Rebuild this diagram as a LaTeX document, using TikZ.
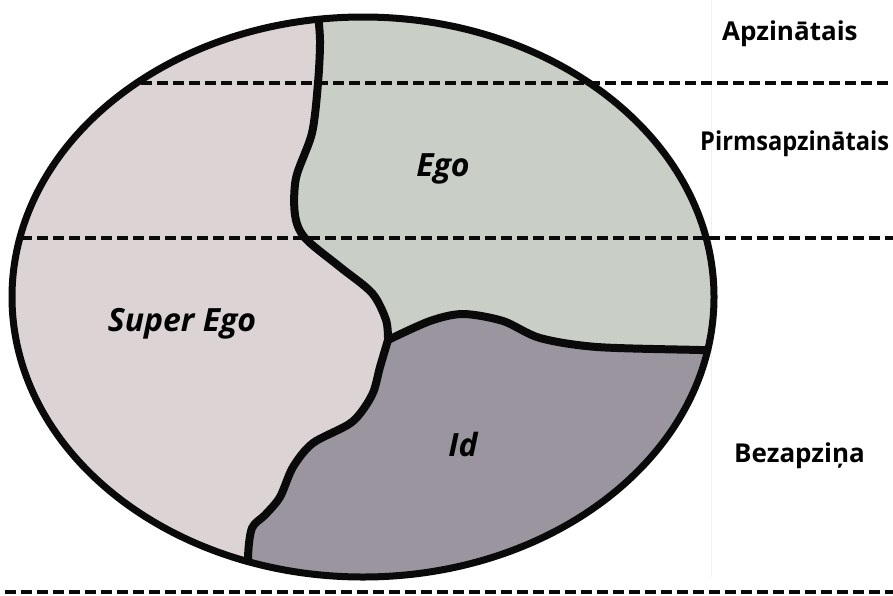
\documentclass[tikz,border=0pt]{standalone}
\usepackage{fontspec}
\setmainfont{Open Sans}
\usetikzlibrary{positioning}
\definecolor{superegofill}{HTML}{DCD3D4}
\definecolor{egofill}{HTML}{C9CFC6}
\definecolor{idfill}{HTML}{9A959F}
\definecolor{inkblack}{HTML}{0A0A0A}
\definecolor{faintgrey}{HTML}{F1F1F1}

\tikzset{
  zona/.style={font=\fontsize{32}{32}\selectfont\bfseries\itshape, inner sep=0pt},
  limenis/.style={font=\fontsize{26}{26}\selectfont\bfseries, anchor=base west, inner sep=0pt},
  robeza/.style={draw=inkblack, line width=8pt, line join=round, line cap=round},
  slanis/.style={draw=inkblack, line width=3.5pt, dash pattern=on 11pt off 5pt}
}

\begin{document}
\begin{tikzpicture}[x=1pt, y=-1pt]
  \useasboundingbox (0,0) rectangle (893,595);
  % Vertikala mala
  \draw[faintgrey, line width=1pt] (711,0) -- (711,577);
  % Psihes ola
  \coordinate (centrs) at (363,297);
  \fill[superegofill] (centrs) ellipse [x radius=351pt, y radius=280pt];
  \begin{scope}
    \clip (centrs) ellipse [x radius=351pt, y radius=280pt];
    % Ego
    \fill[egofill] (730,0) -- (317,0)
      -- plot[smooth] coordinates {(317,0) (320,40) (318,83) (312,133) (296,178) (295,215) (305,238) (340,267) (372,293) (386,320) (388,340)}
      -- plot[smooth] coordinates {(388,340) (430,321) (463,314) (503,321) (540,338) (597,347) (700,350) (730,351)}
      -- cycle;
    % Id
    \fill[idfill] (730,351) -- (730,600) -- (250,600)
      -- plot[smooth] coordinates {(250,600) (248,557) (252,528) (265,515) (280,497) (293,467) (313,443) (352,422) (372,395) (380,367) (388,340)}
      -- plot[smooth] coordinates {(388,340) (430,321) (463,314) (503,321) (540,338) (597,347) (700,350) (730,351)}
      -- cycle;
  \end{scope}
  % Limenu linijas
  \draw[slanis] (141,83) -- (893,83);
  \draw[slanis] (21,238) -- (893,238);
  \draw[slanis] (5,592) -- (893,592);
  % Robezas
  \begin{scope}
    \clip (centrs) ellipse [x radius=351pt, y radius=280pt];
    \draw[robeza] plot[smooth] coordinates {(317,5) (320,40) (318,83) (312,133) (296,178) (295,215) (305,238) (340,267) (372,293) (386,320) (388,340)};
    \draw[robeza] plot[smooth] coordinates {(388,340) (430,321) (463,314) (503,321) (540,338) (597,347) (700,350) (730,351)};
    \draw[robeza] plot[smooth] coordinates {(388,340) (380,367) (372,395) (352,422) (313,443) (293,467) (280,497) (265,515) (252,528) (248,557) (250,590)};
  \end{scope}
  \draw[draw=inkblack, line width=7pt] (centrs) ellipse [x radius=351pt, y radius=280pt];
  % Uzraksti
  \node[zona, anchor=base] (ego) at (443,176) {Ego};
  \node[zona, anchor=base] (superego) at (182,331) {Super Ego};
  \node[zona, anchor=base] (id) at (463,456) {Id};
  \node[limenis] (apzinatais) at (722,40) {Apzinātais};
  \node[limenis] (pirmsapzinatais) at (700,150) {\scalebox{0.91}[1]{Pirmsapzinātais}};
  \node[limenis] (bezapzina) at (734,462) {Bezapziņa};
\end{tikzpicture}
\end{document}
